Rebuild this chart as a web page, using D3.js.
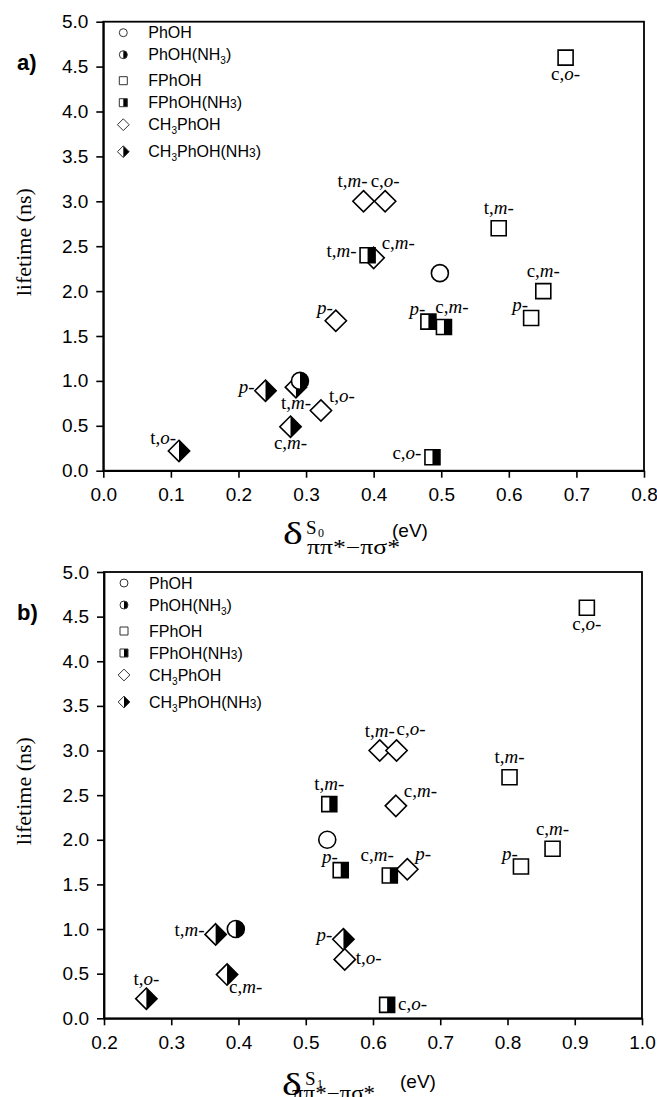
<!DOCTYPE html>
<html>
<head>
<meta charset="utf-8">
<script src="https://cdn.jsdelivr.net/npm/d3@7"></script>
<style>
  body { margin: 0; background: #fff; }
  svg { display: block; }
</style>
</head>
<body>
<div id="chart"></div>
<script>
// series: name, marker shape, half filled or not
const seriesNames = ["PhOH", "PhOH(NH3)", "FPhOH", "FPhOH(NH3)", "CH3PhOH", "CH3PhOH(NH3)"];
const seriesShapes = ["circle", "circle", "square", "square", "diamond", "diamond"];
const seriesHalf = [false, true, false, true, false, true];

// legend text pieces: [text, kind]  kind: "" normal, "sub" lowered, "sm" small on baseline
const legendText = [
  [["PhOH", ""]],
  [["PhOH(NH", ""], ["3", "sub"], [")", ""]],
  [["FPhOH", ""]],
  [["FPhOH(NH", ""], ["3", "sm"], [")", ""]],
  [["CH", ""], ["3", "sub"], ["PhOH", ""]],
  [["CH", ""], ["3", "sub"], ["PhOH(NH", ""], ["3", "sm"], [")", ""]]
];

// panel a) lifetime vs delta S0 : [series, delta (eV), lifetime (ns), label, label side]
const pointsS0 = [
  ["CH3PhOH", 0.385, 3.00, "t,m-", "nl"],
  ["CH3PhOH", 0.417, 3.00, "c,o-", "n"],
  ["CH3PhOH", 0.400, 2.37, "c,m-", "ne"],
  ["CH3PhOH", 0.344, 1.67, "p-", "nw"],
  ["CH3PhOH", 0.322, 0.67, "t,o-", "ne"],
  ["CH3PhOH(NH3)", 0.240, 0.89, "p-", "w"],
  ["CH3PhOH(NH3)", 0.285, 0.93, "t,m-", "s"],
  ["CH3PhOH(NH3)", 0.277, 0.49, "c,m-", "s"],
  ["CH3PhOH(NH3)", 0.112, 0.22, "t,o-", "nw"],
  ["FPhOH", 0.684, 4.60, "c,o-", "s"],
  ["FPhOH", 0.585, 2.70, "t,m-", "n"],
  ["FPhOH", 0.651, 2.00, "c,m-", "n"],
  ["FPhOH", 0.633, 1.70, "p-", "nw"],
  ["FPhOH(NH3)", 0.391, 2.40, "t,m-", "w"],
  ["FPhOH(NH3)", 0.481, 1.66, "p-", "nw"],
  ["FPhOH(NH3)", 0.504, 1.60, "c,m-", "nR"],
  ["FPhOH(NH3)", 0.487, 0.15, "c,o-", "w"],
  ["PhOH", 0.498, 2.20, "", ""],
  ["PhOH(NH3)", 0.291, 1.00, "", ""]
];

// panel b) lifetime vs delta S1
const pointsS1 = [
  ["CH3PhOH", 0.610, 3.00, "t,m-", "n"],
  ["CH3PhOH", 0.635, 3.00, "c,o-", "nr"],
  ["CH3PhOH", 0.634, 2.38, "c,m-", "ne"],
  ["CH3PhOH", 0.651, 1.67, "p-", "ne"],
  ["CH3PhOH", 0.558, 0.66, "t,o-", "e"],
  ["CH3PhOH(NH3)", 0.366, 0.94, "t,m-", "w"],
  ["CH3PhOH(NH3)", 0.383, 0.49, "c,m-", "se"],
  ["CH3PhOH(NH3)", 0.556, 0.885, "p-", "w"],
  ["CH3PhOH(NH3)", 0.263, 0.22, "t,o-", "n"],
  ["FPhOH", 0.918, 4.60, "c,o-", "s"],
  ["FPhOH", 0.803, 2.70, "t,m-", "n"],
  ["FPhOH", 0.867, 1.90, "c,m-", "n"],
  ["FPhOH", 0.820, 1.70, "p-", "nw"],
  ["FPhOH(NH3)", 0.535, 2.40, "t,m-", "n"],
  ["FPhOH(NH3)", 0.552, 1.66, "p-", "nw"],
  ["FPhOH(NH3)", 0.625, 1.60, "c,m-", "nl"],
  ["FPhOH(NH3)", 0.621, 0.15, "c,o-", "e"],
  ["PhOH", 0.532, 2.00, "", ""],
  ["PhOH(NH3)", 0.396, 1.00, "", ""]
];

const yTicks = [0, 0.5, 1, 1.5, 2, 2.5, 3, 3.5, 4, 4.5, 5];
const xTicksS0 = [0, 0.1, 0.2, 0.3, 0.4, 0.5, 0.6, 0.7, 0.8];
const xTicksS1 = [0.2, 0.3, 0.4, 0.5, 0.6, 0.7, 0.8, 0.9, 1.0];

const W = 657, H = 1097;
const sans = "'Liberation Sans', Arial, sans-serif";
const serif = "'Liberation Serif', 'Times New Roman', serif";

const svg = d3.select("#chart").append("svg")
  .attr("width", W).attr("height", H);

// where a label sits relative to its marker
const side = {
  n:  { anchor: "middle", dx: 0,   dy: -14 },
  nR: { anchor: "middle", dx: 8,   dy: -14 },
  nl: { anchor: "end",    dx: 4,   dy: -14 },
  nr: { anchor: "start",  dx: 0,   dy: -16 },
  s:  { anchor: "middle", dx: 0,   dy: 22 },
  w:  { anchor: "end",    dx: -11, dy: 2 },
  e:  { anchor: "start",  dx: 11,  dy: 5 },
  nw: { anchor: "end",    dx: -3,  dy: -7 },
  ne: { anchor: "start",  dx: 8,   dy: -9 },
  se: { anchor: "start",  dx: 2,   dy: 18 }
};

function drawMarker(g, shape, half, cx, cy, size, stroke, sw) {
  const r = size;
  let outline, right;
  if (shape === "circle") {
    outline = d3.path(); outline.arc(cx, cy, r, 0, 2 * Math.PI);
    right = `M${cx},${cy - r}A${r},${r} 0 0 1 ${cx},${cy + r}Z`;
  } else if (shape === "square") {
    outline = `M${cx - r},${cy - r}H${cx + r}V${cy + r}H${cx - r}Z`;
    right = `M${cx},${cy - r}H${cx + r}V${cy + r}H${cx}Z`;
  } else {
    const h = r * 1.4;
    outline = `M${cx},${cy - h}L${cx + h},${cy}L${cx},${cy + h}L${cx - h},${cy}Z`;
    right = `M${cx},${cy - h}L${cx + h},${cy}L${cx},${cy + h}Z`;
  }
  g.append("path").attr("d", outline.toString()).attr("fill", "#fff");
  if (half) g.append("path").attr("d", right).attr("fill", "#000");
  g.append("path").attr("d", outline.toString())
    .attr("fill", "none").attr("stroke", stroke).attr("stroke-width", sw);
}

function drawPanel(opt) {
  const x = d3.scaleLinear().domain(opt.xDomain).range([opt.left, opt.right]);
  const y = d3.scaleLinear().domain([0, 5]).range([opt.bottom, opt.top]);
  const g = svg.append("g");

  // frame
  g.append("rect")
    .attr("x", opt.left).attr("y", opt.top)
    .attr("width", opt.right - opt.left).attr("height", opt.bottom - opt.top)
    .attr("fill", "none").attr("stroke", "#000").attr("stroke-width", 1.8);

  const yAxis = g.append("g")
    .attr("transform", `translate(${opt.left},0)`)
    .call(d3.axisLeft(y).tickValues(yTicks).tickFormat(d3.format(".1f"))
      .tickSize(7).tickSizeOuter(0).tickPadding(8));
  const xAxis = g.append("g")
    .attr("transform", `translate(0,${opt.bottom})`)
    .call(d3.axisBottom(x).tickValues(opt.xTicks).tickFormat(d3.format(".1f"))
      .tickSize(7).tickSizeOuter(0).tickPadding(10));
  [yAxis, xAxis].forEach(a => {
    a.select(".domain").attr("stroke-width", 1.8);
    a.selectAll(".tick line").attr("stroke-width", 1.6);
    a.selectAll(".tick text").attr("font-family", sans).attr("font-size", 19).attr("fill", "#000");
  });

  // markers
  const marks = g.append("g");
  opt.points.forEach(p => {
    const i = seriesNames.indexOf(p[0]);
    const sz = seriesShapes[i] === "circle" ? 8.5 : seriesShapes[i] === "square" ? 7.5 : 7.6;
    drawMarker(marks, seriesShapes[i], seriesHalf[i], x(p[1]), y(p[2]), sz, "#000", 1.6);
  });

  // point labels, e.g. "t,m-" with the isomer letter in italics
  const labs = g.append("g").attr("font-family", serif).attr("font-size", 19).attr("fill", "#000");
  opt.points.filter(p => p[3]).forEach(p => {
    const s = side[p[4]];
    const t = labs.append("text")
      .attr("x", x(p[1]) + s.dx).attr("y", y(p[2]) + s.dy)
      .attr("text-anchor", s.anchor);
    const parts = p[3].split(",");
    if (parts.length === 2) {
      t.append("tspan").text(parts[0] + ",");
      t.append("tspan").attr("font-style", "italic").text(parts[1].replace("-", ""));
    } else {
      t.append("tspan").attr("font-style", "italic").text(parts[0].replace("-", ""));
    }
    t.append("tspan").text("-");
  });

  // legend
  const leg = g.append("g");
  const rowY = [11, 33, 59, 81, 103, 130];
  seriesNames.forEach((n, i) => {
    const cy = opt.top + rowY[i];
    const sz = seriesShapes[i] === "circle" ? 4 : seriesShapes[i] === "square" ? 4 : 4.2;
    drawMarker(leg, seriesShapes[i], seriesHalf[i], opt.left + 20, cy, sz, "#333", 1);
    const t = leg.append("text")
      .attr("x", opt.left + 45).attr("y", cy + 5.5)
      .attr("font-family", sans).attr("font-size", 16).attr("fill", "#000");
    let lowered = false;
    legendText[i].forEach(([s, kind]) => {
      const ts = t.append("tspan").text(s);
      if (kind === "sub") { ts.attr("font-size", 10).attr("dy", 4); lowered = true; }
      else {
        if (lowered) { ts.attr("dy", -4); lowered = false; }
        if (kind === "sm") ts.attr("font-size", 12);
      }
    });
  });

  // panel letter
  g.append("text")
    .attr("x", 17).attr("y", opt.top + 48)
    .attr("font-family", sans).attr("font-size", 22).attr("font-weight", "bold")
    .text(opt.letter);

  // y title
  const ym = (opt.top + opt.bottom) / 2 - 4;
  g.append("text")
    .attr("transform", `translate(31,${ym}) rotate(-90)`)
    .attr("text-anchor", "middle")
    .attr("font-family", serif).attr("font-size", 22)
    .text("lifetime (ns)");

  // x title: delta with state superscript and pi-pi*/pi-sigma* subscript
  const tb = opt.bottom + opt.titleDy;
  const xt = g.append("g").attr("font-family", serif).attr("fill", "#000");
  xt.append("text")
    .attr("transform", `translate(${opt.tx},${tb + 73}) scale(1.35,1)`)
    .attr("font-size", 31).text("δ");
  xt.append("text").attr("x", opt.tx + 23).attr("y", tb + 63).attr("font-size", 19).text("S");
  xt.append("text").attr("x", opt.tx + 35).attr("y", tb + 66).attr("font-size", 12).text(opt.state);
  xt.append("text").attr("x", opt.tx + opt.subDx).attr("y", opt.bottom + opt.subY)
    .attr("font-size", 20).attr("textLength", opt.subW).attr("lengthAdjust", "spacingAndGlyphs")
    .text("ππ*−πσ*");
  xt.append("text").attr("x", opt.tx + opt.evDx).attr("y", tb + 66)
    .attr("font-family", sans).attr("font-size", 19).text("(eV)");
}

drawPanel({
  letter: "a)", points: pointsS0, xDomain: [0, 0.8], xTicks: xTicksS0,
  left: 103.3, right: 644, top: 21.7, bottom: 470.7,
  tx: 283, state: "0", subDx: 24, subW: 93, subY: 83, evDx: 109, titleDy: 0
});
drawPanel({
  letter: "b)", points: pointsS1, xDomain: [0.2, 1.0], xTicks: xTicksS1,
  left: 104, right: 642, top: 572, bottom: 1018.3,
  tx: 282, state: "1", subDx: 10, subW: 83, subY: 82, evDx: 118, titleDy: 4
});
</script>
</body>
</html>
